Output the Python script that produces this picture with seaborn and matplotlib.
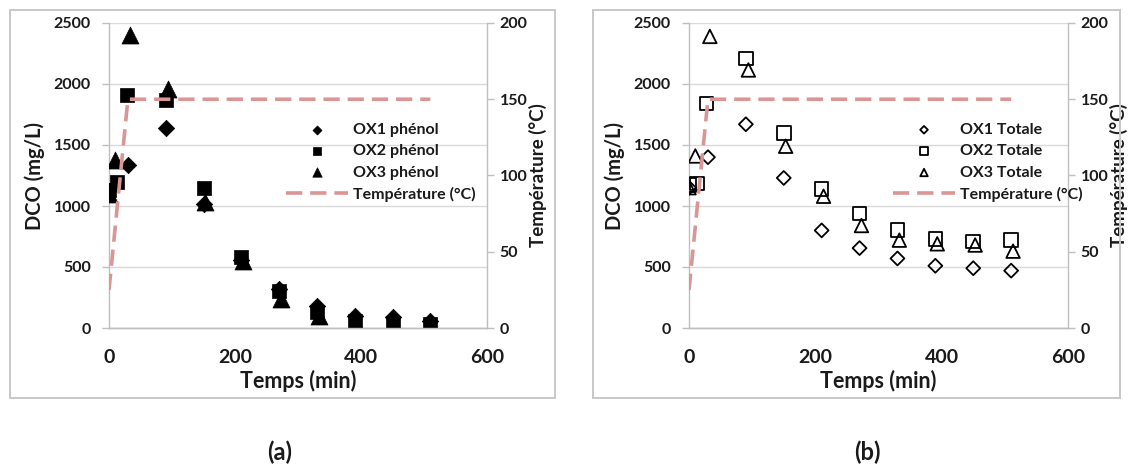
import matplotlib
matplotlib.use("Agg")
import matplotlib.pyplot as plt
import seaborn as sns
import numpy as np
from matplotlib.patches import Rectangle

# ---------------- data ----------------
time_ox1 = [0, 30, 90, 150, 210, 270, 330, 390, 450, 510]
time_ox2 = [0, 13, 28, 90, 150, 210, 270, 330, 390, 450, 510]
time_ox3 = [0, 10, 33, 94, 153, 213, 273, 333, 393, 453, 513]

phenol_ox1 = [1120, 1340, 1640, 1020, 560, 320, 180, 100, 90, 60]
phenol_ox2 = [1130, 1200, 1910, 1870, 1150, 580, 300, 130, 60, 40, 30]
phenol_ox3 = [1100, 1380, 2400, 1960, 1030, 550, 240, 100, 20, 20, 20]

totale_ox1 = [1150, 1400, 1670, 1230, 800, 655, 570, 510, 490, 470]
totale_ox2 = [1170, 1185, 1840, 2210, 1600, 1140, 940, 805, 730, 710, 720]
totale_ox3 = [1150, 1410, 2390, 2115, 1490, 1080, 840, 720, 690, 680, 630]

temp_time = [0, 30, 510]
temp_vals = [25, 150, 150]

labels_a = ["OX1 phénol", "OX2 phénol", "OX3 phénol"]
labels_b = ["OX1 Totale", "OX2 Totale", "OX3 Totale"]
temp_label = "Température (°C)"

x_ticks = [0, 200, 400, 600]
y_ticks = [0, 500, 1000, 1500, 2000, 2500]
t_ticks = [0, 50, 100, 150, 200]

# ---------------- style ----------------
sns.set_theme(style="white")
plt.rcParams['font.family'] = ['Lato', 'DejaVu Sans']
plt.rcParams['font.weight'] = 'bold'

TXT = '#1a1a1a'
SPINE = '#bfbfbf'
GRID = '#d9d9d9'
TEMP_C = '#d99694'

fig = plt.figure(figsize=(11.3, 4.67), dpi=100)
W, H = 1130, 467

# outer boxes
for x0, x1 in [(10, 555), (593, 1120)]:
    fig.add_artist(Rectangle((x0 / W, 1 - 398 / H), (x1 - x0) / W, (398 - 10) / H,
                             transform=fig.transFigure, fill=False,
                             edgecolor='#c8c8c8', linewidth=1.4))


def panel(left_px, right_px, series, times, labels, filled, tag, tag_x, leg_x):
    ax = fig.add_axes([left_px / W, 1 - 328 / H, (right_px - left_px) / W, (328 - 23) / H])
    ax2 = ax.twinx()
    markers = ['D', 's', '^']
    sizes = [70, 95, 150] if filled else [50, 95, 95]
    for vals, t, lab, m, s in zip(series, times, labels, markers, sizes):
        if filled:
            sns.scatterplot(x=t, y=vals, ax=ax, marker=m, s=s, color='black',
                            edgecolor='black', linewidth=0.5, label=lab, legend=False, zorder=3)
        else:
            sns.scatterplot(x=t, y=vals, ax=ax, marker=m, s=s, color='none',
                            edgecolor='black', linewidth=1.3, label=lab, legend=False, zorder=3)
    sns.lineplot(x=temp_time, y=temp_vals, ax=ax2, color=TEMP_C, linewidth=2.6,
                 label=temp_label, legend=False)
    ax2.lines[0].set_dashes([4.5, 2.2])

    ax.set_xlim(0, 600)
    ax.set_ylim(0, 2500)
    ax2.set_ylim(0, 200)
    ax.set_xticks(x_ticks)
    ax.set_yticks(y_ticks)
    ax2.set_yticks(t_ticks)
    ax.grid(axis='y', color=GRID, linewidth=1.0)
    ax.set_axisbelow(True)
    for a in (ax, ax2):
        a.spines['top'].set_visible(False)
        for side in ['left', 'right', 'bottom']:
            a.spines[side].set_color(SPINE)
            a.spines[side].set_linewidth(1.0)
        a.tick_params(axis='both', colors=SPINE, labelcolor=TXT,
                      length=5, width=1.0, direction='out')
    ax2.spines['left'].set_visible(False)
    ax.spines['right'].set_visible(False)
    ax.tick_params(axis='y', labelsize=11.5, pad=8)
    ax.tick_params(axis='x', labelsize=14, pad=10)
    ax2.tick_params(axis='y', labelsize=11.5, pad=4)
    for lab in ax.get_xticklabels() + ax.get_yticklabels() + ax2.get_yticklabels():
        lab.set_fontweight('bold')

    ax.set_xlabel("Temps (min)", fontsize=15.5, fontweight='bold', color=TXT, labelpad=3)
    ax.set_ylabel("DCO (mg/L)", fontsize=14.5, fontweight='bold', color=TXT, labelpad=6)
    ax2.set_ylabel(temp_label, fontsize=13.5, fontweight='bold', color=TXT, labelpad=1)

    h1, l1 = ax.get_legend_handles_labels()
    h2, l2 = ax2.get_legend_handles_labels()
    leg = ax2.legend(h1 + h2, l1 + l2, loc='upper left', bbox_to_anchor=(leg_x, 0.72),
                     frameon=False, fontsize=11.5, handlelength=3.9, handletextpad=0.3,
                     labelspacing=0.45, markerscale=0.55)
    for t in leg.get_texts():
        t.set_fontweight('bold')
        t.set_color(TXT)

    fig.text(tag_x / W, 1 - 452 / H, tag, ha='center', va='center',
             fontsize=17, fontweight='bold', color=TXT)
    return ax, ax2


panel(109, 487, [phenol_ox1, phenol_ox2, phenol_ox3], [time_ox1, time_ox2, time_ox3],
      labels_a, True, "(a)", 280, 0.43)
panel(689, 1068, [totale_ox1, totale_ox2, totale_ox3], [time_ox1, time_ox2, time_ox3],
      labels_b, False, "(b)", 867, 0.50)

fig.savefig("out.png", dpi=100)
